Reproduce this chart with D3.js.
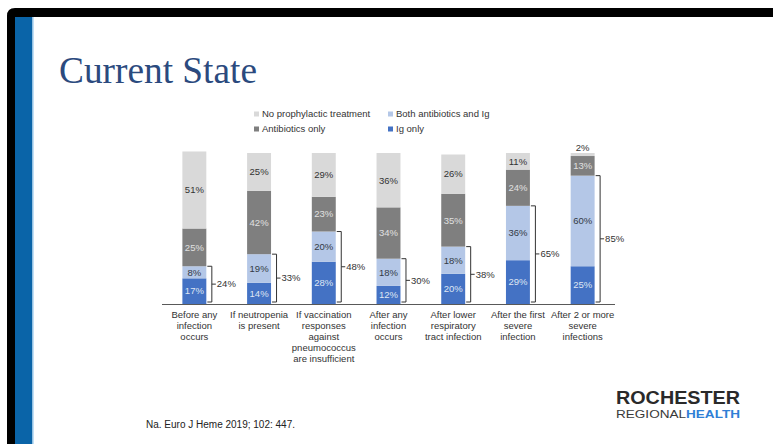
<!DOCTYPE html>
<html>
<head>
<meta charset="utf-8">
<script src="https://cdn.jsdelivr.net/npm/d3@7/dist/d3.min.js"></script>
<style>
  html, body { margin: 0; padding: 0; background: #ffffff; }
  svg { display: block; }
  text { font-family: "Liberation Sans", Arial, sans-serif; }
</style>
</head>
<body>
<svg id="slide" width="773" height="444"></svg>
<script>
// Situations in which prophylaxis is given
const categories = [
  ["Before any", "infection", "occurs"],
  ["If neutropenia", "is present"],
  ["If vaccination", "responses", "against", "pneumococcus", "are insufficient"],
  ["After any", "infection", "occurs"],
  ["After lower", "respiratory", "tract infection"],
  ["After the first", "severe", "infection"],
  ["After 2 or more", "severe", "infections"]
];

// Share of respondents (%) per treatment choice, bottom to top
const igOnly         = [17, 14, 28, 12, 20, 29, 25];
const bothAbxIg      = [8, 19, 20, 18, 18, 36, 60];
const antibioticOnly = [25, 42, 23, 34, 35, 24, 13];
const noProphylaxis  = [51, 25, 29, 36, 26, 11, 2];

// Combined Ig-containing share shown beside each bracket
const igTotals = [24, 33, 48, 30, 38, 65, 85];

const seriesNames = ["Ig only", "Both antibiotics and Ig", "Antibiotics only", "No prophylactic treatment"];
const seriesValues = [igOnly, bothAbxIg, antibioticOnly, noProphylaxis];
const seriesFill = ["#4472c4", "#b4c7e7", "#7f7f7f", "#d9d9d9"];
const seriesText = ["#dfe6f3", "#333a45", "#e0e0e0", "#333333"];

const svg = d3.select("#slide");

// Slide frame: black band across the top and left, blue accent strip
svg.append("rect").attr("x", 0).attr("y", 0).attr("width", 773).attr("height", 444).attr("fill", "#ffffff");
svg.append("path")
  .attr("d", "M7,444 L7,16 Q7,8 15,8 L773,8 L773,17 L15,17 L15,444 Z")
  .attr("fill", "#000000");
svg.append("rect").attr("x", 15).attr("y", 17).attr("width", 17.5).attr("height", 427).attr("fill", "#0a64a8");
svg.append("rect").attr("x", 32.5).attr("y", 17).attr("width", 1.2).attr("height", 427).attr("fill", "#a9d3f2");

// Title
svg.append("text")
  .attr("x", 59).attr("y", 83)
  .style("font-family", "'Liberation Serif', serif")
  .attr("font-size", 37)
  .attr("fill", "#2b4a7e")
  .attr("textLength", 198)
  .attr("lengthAdjust", "spacingAndGlyphs")
  .text("Current State");

// Scales
const x = d3.scaleBand()
  .domain(d3.range(categories.length))
  .range([162, 615])
  .paddingInner(0.63)
  .paddingOuter(0.315);
const y = d3.scaleLinear().domain([0, 100]).range([304, 153]);

// Stacked segments
const rows = categories.map((c, i) => {
  const r = { i };
  seriesNames.forEach((n, k) => { r[n] = seriesValues[k][i]; });
  return r;
});
const stacked = d3.stack().keys(seriesNames)(rows);

const chart = svg.append("g");
stacked.forEach((layer, k) => {
  chart.append("g")
    .attr("fill", seriesFill[k])
    .selectAll("rect")
    .data(layer)
    .join("rect")
    .attr("x", d => x(d.data.i))
    .attr("y", d => y(d[1]))
    .attr("width", x.bandwidth())
    .attr("height", d => y(d[0]) - y(d[1]));
});

// Segment value labels (segments too thin for a label carry it above the bar)
stacked.forEach((layer, k) => {
  chart.append("g")
    .selectAll("text")
    .data(layer)
    .join("text")
    .attr("x", d => x(d.data.i) + x.bandwidth() / 2)
    .attr("y", d => (y(d[0]) - y(d[1]) < 8) ? y(d[1]) - 5 : (y(d[0]) + y(d[1])) / 2)
    .attr("dy", "0.35em")
    .attr("text-anchor", "middle")
    .attr("font-size", 9.5)
    .attr("fill", d => (y(d[0]) - y(d[1]) < 8) ? "#333333" : seriesText[k])
    .text(d => (d[1] - d[0]) + "%");
});

// Baseline
svg.append("line")
  .attr("x1", 162).attr("x2", 615)
  .attr("y1", y(0) + 0.5).attr("y2", y(0) + 0.5)
  .attr("stroke", "#595959").attr("stroke-width", 1);

// Brackets around the Ig-containing segments
const brackets = svg.append("g").attr("stroke", "#333333").attr("stroke-width", 1).attr("fill", "none");
categories.forEach((c, i) => {
  const right = x(i) + x.bandwidth();
  const vx = right + 5.5;
  const top = y(igOnly[i] + bothAbxIg[i]);
  const bot = y(0) - 2;
  brackets.append("path")
    .attr("d", `M${right + 1},${top} H${vx} V${bot} H${right + 1} M${vx},${(top + bot) / 2} H${vx + 4}`);
  svg.append("text")
    .attr("x", vx + 5)
    .attr("y", (top + bot) / 2)
    .attr("dy", "0.35em")
    .attr("font-size", 9.5)
    .attr("fill", "#333333")
    .text(igTotals[i] + "%");
});

// Category labels
categories.forEach((lines, i) => {
  const t = svg.append("text")
    .attr("x", x(i) + x.bandwidth() / 2)
    .attr("y", 318)
    .attr("text-anchor", "middle")
    .attr("font-size", 9.5)
    .attr("fill", "#333333");
  lines.forEach((ln, j) => {
    t.append("tspan").attr("x", x(i) + x.bandwidth() / 2).attr("dy", j === 0 ? 0 : 11).text(ln);
  });
});

// Legend
const legendItems = [
  { name: "No prophylactic treatment", k: 3, lx: 254, ly: 114 },
  { name: "Both antibiotics and Ig", k: 1, lx: 388, ly: 114 },
  { name: "Antibiotics only", k: 2, lx: 254, ly: 129 },
  { name: "Ig only", k: 0, lx: 388, ly: 129 }
];
const legend = svg.append("g");
legendItems.forEach(it => {
  legend.append("rect")
    .attr("x", it.lx).attr("y", it.ly - 2.5)
    .attr("width", 5).attr("height", 5)
    .attr("fill", seriesFill[it.k]);
  legend.append("text")
    .attr("x", it.lx + 8).attr("y", it.ly)
    .attr("dy", "0.35em")
    .attr("font-size", 9.5)
    .attr("fill", "#333333")
    .text(it.name);
});

// Source note
svg.append("text")
  .attr("x", 146).attr("y", 428)
  .attr("font-size", 10)
  .attr("fill", "#222222")
  .text("Na. Euro J Heme 2019; 102: 447.");

// Organisation wordmark
svg.append("text")
  .attr("x", 616).attr("y", 403.5)
  .attr("font-size", 18)
  .attr("font-weight", "bold")
  .attr("fill", "#2a2a2a")
  .attr("textLength", 124)
  .attr("lengthAdjust", "spacingAndGlyphs")
  .text("ROCHESTER");
const mark2 = svg.append("text")
  .attr("x", 616).attr("y", 418)
  .attr("font-size", 11.5)
  .attr("textLength", 124)
  .attr("lengthAdjust", "spacingAndGlyphs");
mark2.append("tspan").attr("fill", "#3a3a3a").text("REGIONAL");
mark2.append("tspan").attr("fill", "#2f7fd6").attr("font-weight", "bold").text("HEALTH");
</script>
</body>
</html>
